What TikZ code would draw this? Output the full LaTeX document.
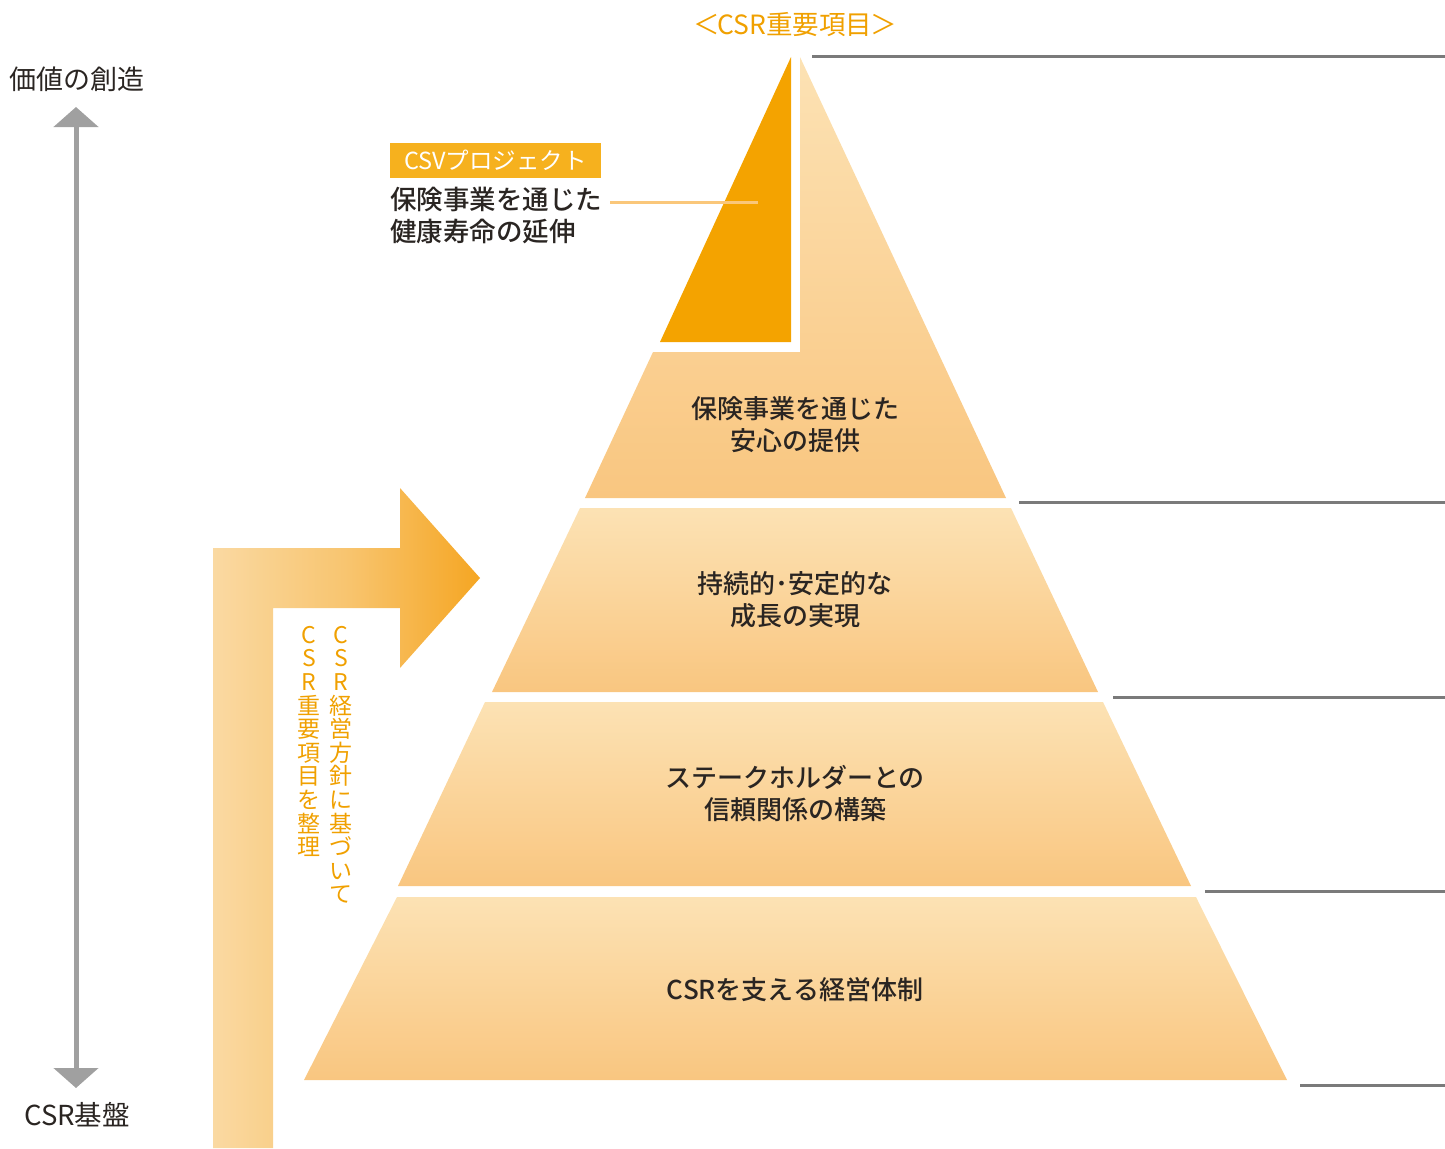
\documentclass[tikz,border=0pt]{standalone}
\usepackage{fontspec}
\setmainfont{Noto Sans CJK JP}[BoldFont={Noto Sans CJK JP Medium}]
\usetikzlibrary{arrows.meta}
\definecolor{orng}{HTML}{F4A300}
\definecolor{orngtxt}{HTML}{F0A000}
\definecolor{csvbox}{HTML}{F6B11E}
\definecolor{bandlight}{HTML}{FCE2B4}
\definecolor{banddark}{HTML}{F9C680}
\definecolor{grayline}{HTML}{7A7A7A}
\definecolor{grayarrow}{HTML}{A0A0A0}
\definecolor{darktxt}{HTML}{2A2522}
\definecolor{arrowlight}{HTML}{FAD9A2}
\definecolor{arrowdark}{HTML}{F5A623}
\definecolor{thinline}{HTML}{FAC77A}
\tikzset{
  band/.style={shade, top color=bandlight, bottom color=banddark, draw=none},
  bandtext/.style={font=\fontsize{26}{32}\selectfont\bfseries, text=darktxt, align=center, inner sep=0},
  leveltick/.style={draw=grayline, line width=3pt},
  sidelabel/.style={font=\fontsize{27}{30}\selectfont, text=darktxt, inner sep=0},
  vtext/.style={font=\fontsize{23}{23.6}\selectfont, text=orngtxt, align=center, inner sep=0, anchor=north}
}
\begin{document}
\begin{tikzpicture}[x=1pt,y=-1pt]
\useasboundingbox (0,0) rectangle (1445,1148);
% top region (L-shape)
\path[band] (800,57) -- (1006,498) -- (585,498) -- (653,352) -- (800,352) -- cycle;
% CSV orange triangle
\fill[orng] (791,57) -- (791,342) -- (660,342) -- cycle;
% bands
\path[band] (580,508) -- (1011,508) -- (1098,692) -- (492,692) -- cycle;
\path[band] (485,702) -- (1103,702) -- (1191,886) -- (398,886) -- cycle;
\path[band] (397,897) -- (1196,897) -- (1287,1080) -- (304,1080) -- cycle;
% level ticks
\draw[leveltick] (812,57) -- (1445,57);
\draw[leveltick] (1019,502) -- (1445,502);
\draw[leveltick] (1113,697) -- (1445,697);
\draw[leveltick] (1205,891) -- (1445,891);
\draw[leveltick] (1300,1085) -- (1445,1085);
% band texts
\node[bandtext] (b2) at (795,425) {保険事業を通じた\\安心の提供};
\node[bandtext] (b3) at (795,600) {持続的･安定的な\\成長の実現};
\node[bandtext] (b4) at (795,794) {ステークホルダーとの\\信頼関係の構築};
\node[bandtext] (b5) at (795,990) {CSRを支える経営体制};
% top label
\node[font=\fontsize{26.5}{30}\selectfont, text=orngtxt, inner sep=0] (top) at (795,25) {＜\kern-2pt CSR重要項目\kern-2pt ＞};
% CSV project
\node[fill=csvbox, text=white, font=\fontsize{23.5}{28}\selectfont, minimum width=211pt, minimum height=35pt, inner sep=0] (csv) at (495.5,160.5) {CSVプロジェクト};
\node[font=\fontsize{26.5}{32}\selectfont\bfseries, text=darktxt, align=left, inner sep=0, anchor=north west] (csvtxt) at (390,187) {保険事業を通じた\\健康寿命の延伸};
\coordinate (csvend) at (758,202);
\draw[thinline, line width=3pt] (610,202) -- (csvend);
% value arrow
\node[sidelabel] (val) at (77,79) {価値の創造};
\node[font=\fontsize{27.5}{30}\selectfont, text=darktxt, inner sep=0] (base) at (77,1115) {CSR基盤};
\coordinate (atop) at (76,107);
\coordinate (abot) at (76,1088);
\draw[grayarrow, line width=5pt, {Triangle[width=44pt,length=20pt]}-{Triangle[width=44pt,length=20pt]}] (atop) -- (abot);
% bent arrow
\path[shade, left color=arrowlight, right color=arrowdark, middle color=arrowlight!60!arrowdark]
  (213,1148) -- (213,548) -- (400,548) -- (400,488) -- (480,578) -- (400,668) -- (400,608) -- (273,608) -- (273,1148) -- cycle;
% vertical texts
\node[vtext] (v1) at (341,626) {C\\S\\R\\経\\営\\方\\針\\に\\基\\づ\\い\\て};
\node[vtext] (v2) at (309,626) {C\\S\\R\\重\\要\\項\\目\\を\\整\\理};
\end{tikzpicture}
\end{document}
